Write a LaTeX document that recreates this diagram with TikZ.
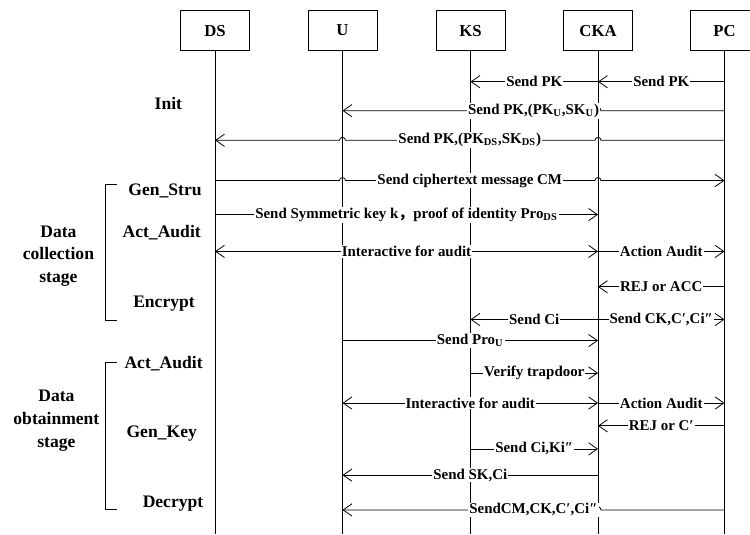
\documentclass[tikz,border=0pt]{standalone}
\usepackage{fontspec}
\setmainfont{Liberation Serif}
\newfontfamily\cjk{Noto Sans CJK SC}
\usetikzlibrary{arrows.meta, calc}

\begin{document}
\begin{tikzpicture}[
  x=0.02cm, y=-0.02cm,
  >={Straight Barb[length=5pt,width=7pt]},
  actor box/.style={
    draw,
    line width=0.45pt,
    minimum width=1.38cm,
    minimum height=0.79cm,
    inner sep=0pt,
    font=\fontsize{9.5}{11}\selectfont\bfseries
  },
  life line/.style={
    line width=0.45pt
  },
  msg/.style={
    ->,
    line width=0.45pt
  },
  msg label/.style={
    fill=white,
    inner sep=0.6pt,
    font=\fontsize{8.5}{10}\selectfont\bfseries
  },
  phase/.style={
    align=center,
    font=\fontsize{10}{12.9}\selectfont\bfseries
  },
  bracket/.style={
    line width=0.45pt
  }
]
\useasboundingbox (0,0) rectangle (750,534);

% actors
\node[actor box] (ds)  at (215,30.6)   {DS};
\node[actor box] (u)   at (342.5,30.6) {U};
\node[actor box] (ks)  at (470.5,30.6) {KS};
\node[actor box] (cka) at (598,30.6)   {CKA};
\node[actor box] (pc)  at (724.5,30.6) {PC};

\coordinate (bottom) at (0,534);
\foreach \who in {ds, u, ks, cka, pc}
  \draw[life line] (\who) -- (\who |- bottom);

% message rows
\foreach \row/\ypos in {r1/81.7, r2/110.7, r3/140.3, r4/180.5, r5/214.6,
    r6/251.4, r7/286.8, r8/319.5, r9/340.6, r10/373, r11/403,
    r12/425.8, r13/448.9, r14/475.1, r15/509.9}
  \coordinate (\row) at (0,\ypos);

% Init
\draw[msg] (cka |- r1) -- node[msg label] {Send PK} (ks |- r1);
\draw[msg] (pc |- r1) -- node[msg label] {Send PK} (cka |- r1);

\draw[msg] (pc |- r2) -- ($(cka |- r2)+(3,0)$)
  arc[start angle=0, end angle=-180, radius=3] -- (u |- r2);
\node[msg label] (pku) at ($(pc |- r2)!0.5!(u |- r2)$)
  {Send PK,(PK\textsubscript{U},SK\textsubscript{U})};

\draw[msg] (pc |- r3) -- ($(cka |- r3)+(3,0)$)
  arc[start angle=0, end angle=-180, radius=3] -- ($(u |- r3)+(3,0)$)
  arc[start angle=0, end angle=-180, radius=3] -- (ds |- r3);
\node[msg label] (pkds) at ($(pc |- r3)!0.5!(ds |- r3)$)
  {Send PK,(PK\textsubscript{DS},SK\textsubscript{DS})};

% data collection
\draw[msg] (ds |- r4) -- ($(u |- r4)-(3,0)$)
  arc[start angle=180, end angle=360, radius=3] -- ($(cka |- r4)-(3,0)$)
  arc[start angle=180, end angle=360, radius=3] -- (pc |- r4);
\node[msg label] (cm) at ($(ds |- r4)!0.5!(pc |- r4)$)
  {Send ciphertext message CM};

\draw[msg] (ds |- r5) -- node[msg label]
  {Send Symmetric key k{\cjk ，}proof of identity Pro\textsubscript{DS}} (cka |- r5);

\draw[msg, <->] (ds |- r6) -- node[msg label] {Interactive for audit} (cka |- r6);
\draw[msg] (cka |- r6) -- node[msg label] {Action Audit} (pc |- r6);

\draw[msg] (pc |- r7) -- node[msg label] {REJ or ACC} (cka |- r7);

\draw[msg] (cka |- r8) -- node[msg label] {Send Ci} (ks |- r8);
\draw[msg] (cka |- r8) -- node[msg label] {Send CK,C′,Ci″} (pc |- r8);

% data obtainment
\draw[msg] (u |- r9) -- node[msg label] {Send Pro\textsubscript{U}} (cka |- r9);

\draw[msg] (ks |- r10) -- node[msg label] {Verify trapdoor} (cka |- r10);

\draw[msg, <->] (u |- r11) -- node[msg label] {Interactive for audit} (cka |- r11);
\draw[msg] (cka |- r11) -- node[msg label] {Action Audit} (pc |- r11);

\draw[msg] (pc |- r12) -- node[msg label] {REJ or C′} (cka |- r12);

\draw[msg] (ks |- r13) -- node[msg label] {Send Ci,Ki″} (cka |- r13);

\draw[msg] (cka |- r14) -- node[msg label] {Send SK,Ci} (u |- r14);

\draw[msg] (pc |- r15) -- ($(cka |- r15)+(3,0)$)
  arc[start angle=0, end angle=-180, radius=3] -- (u |- r15);
\node[msg label] (sendcm) at ($(pc |- r15)!0.5!(u |- r15)$)
  {SendCM,CK,C′,Ci″};

% phases
\node[phase] (init)    at (168.4,103.9) {Init};
\node[phase] (genstru) at (165,191.4)   {Gen\_Stru};
\node[phase] (audit1)  at (161.7,232.6) {Act\_Audit};
\node[phase] (encrypt) at (164,303.8)   {Encrypt};
\node[phase] (audit2)  at (163.6,363.8) {Act\_Audit};
\node[phase] (genkey)  at (161.7,433.2) {Gen\_Key};
\node[phase] (decrypt) at (173,503.4)   {Decrypt};

\node[phase] (collect) at (58.4,256)   {Data\\collection\\stage};
\node[phase] (obtain)  at (56.4,420.6) {Data\\obtainment\\stage};

\draw[bracket] (117,184) -- (105.2,184) -- (105.2,320.8) -- (117,320.8);
\draw[bracket] (117,362.7) -- (105.2,362.7) -- (105.2,509.5) -- (117,509.5);

\end{tikzpicture}
\end{document}
